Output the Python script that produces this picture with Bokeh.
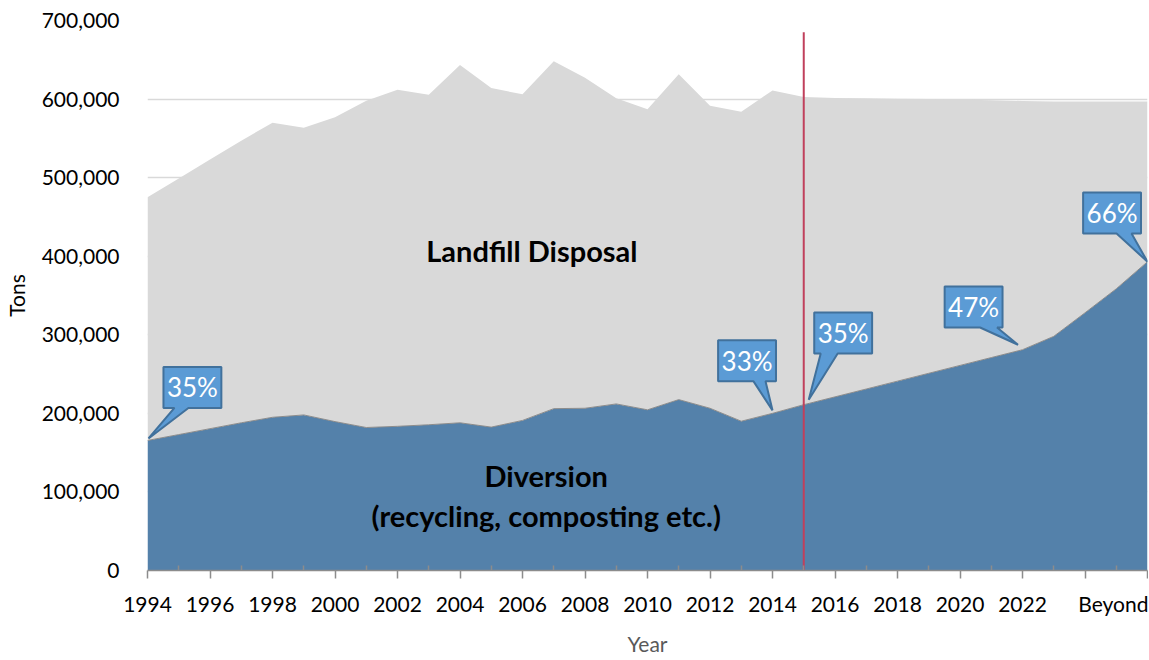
from bokeh.plotting import figure
from bokeh.models import Range1d, FixedTicker, NumeralTickFormatter, Label, ColumnDataSource
from bokeh.embed import file_html
from bokeh.resources import INLINE

# ---------------- data ----------------
years = [str(y) for y in range(1994, 2026)] + ["Beyond"]
diversion = [165500, 173000, 180500, 188000, 195000, 198000, 189500, 182000,
             183500, 185500, 188000, 182500, 191000, 206000, 206500, 212000,
             204500, 217500, 206500, 190000, 200000, 211000, 221000, 231000,
             241000, 251000, 261000, 271000, 281000, 298000, 328000, 358500,
             393000]
landfill = [309500, 326000, 342500, 359000, 375000, 365500, 387500, 416000,
            428500, 420000, 455500, 431500, 415000, 442000, 420500, 389000,
            382500, 414000, 385000, 394000, 411000, 391500, 380500, 370000,
            359500, 349000, 338500, 327500, 316500, 299000, 269000, 238500,
            204000]
y_ticks = [0, 100000, 200000, 300000, 400000, 500000, 600000, 700000]
divider_year = "2015"
# callouts: (year label, text)
callouts = [("1994", "35%"), ("2014", "33%"), ("2015", "35%"),
            ("2022", "47%"), ("Beyond", "66%")]
# ---------------------------------------

FONT = "Lato"
W, H = 1148, 658
BL, BR, BT, BB = 145, 1, 20, 88
FW, FH = W - BL - BR, H - BT - BB
N = len(years)
x = list(range(N))

src = ColumnDataSource(dict(x=x, diversion=diversion, landfill=landfill))

p = figure(width=W, height=H,
           x_range=Range1d(0, N - 1), y_range=Range1d(0, 700000),
           output_backend="svg", toolbar_location=None,
           min_border_left=BL, min_border_right=BR,
           min_border_top=BT, min_border_bottom=BB)
p.outline_line_color = None
p.background_fill_color = "white"
p.border_fill_color = "white"

p.varea_stack(["diversion", "landfill"], x="x", color=["#5481AA", "#D9D9D9"], source=src)
p.line("x", "diversion", source=src, line_color="#8C8C8C", line_width=1)

# divider
di = years.index(divider_year)
p.segment(x0=[di], y0=[0], x1=[di], y1=[685000], line_color="#C0405C", line_width=2)

# axes
def xlabel(i):
    if i <= 28 or i == N - 1:
        return years[i]
    return ""

p.xaxis.ticker = FixedTicker(ticks=list(range(0, N, 2)), minor_ticks=list(range(1, N, 2)))
p.xaxis.major_label_overrides = {i: xlabel(i) for i in range(0, N, 2)}
p.xaxis.axis_line_color = "#8C8C8C"
p.xaxis.axis_line_width = 1.5
p.xaxis.major_tick_line_color = "#8C8C8C"
p.xaxis.major_tick_line_width = 1.5
p.xaxis.minor_tick_line_color = "#8C8C8C"
p.xaxis.minor_tick_line_width = 1.5
p.xaxis.major_tick_out = 8
p.xaxis.major_tick_in = 0
p.xaxis.minor_tick_in = 5
p.xaxis.minor_tick_out = 0
p.xaxis.major_label_standoff = 12
p.xaxis.axis_label = "Year"
p.xaxis.axis_label_text_color = "#595959"
p.xaxis.axis_label_standoff = 12

p.yaxis.ticker = FixedTicker(ticks=y_ticks)
p.yaxis.formatter = NumeralTickFormatter(format="0,0")
p.yaxis.axis_line_color = None
p.yaxis.major_tick_line_color = None
p.yaxis.minor_tick_line_color = None
p.yaxis.major_label_standoff = 22
p.yaxis.axis_label = "Tons"
p.yaxis.axis_label_text_color = "#000000"
p.yaxis.axis_label_standoff = 10

for ax in (p.xaxis, p.yaxis):
    ax.major_label_text_font = FONT
    ax.major_label_text_font_size = "21px"
    ax.major_label_text_color = "#000000"
    ax.axis_label_text_font = FONT
    ax.axis_label_text_font_size = "21px"
    ax.axis_label_text_font_style = "normal"

p.xgrid.visible = False
p.ygrid.ticker = FixedTicker(ticks=y_ticks)
p.ygrid.grid_line_color = "#D9D9D9"
p.ygrid.grid_line_width = 1.5

# area labels
for tx, xx, yy in [("Landfill Disposal", 12.3, 407000), ("Diversion", 12.76, 121000),
                   ("(recycling, composting etc.)", 12.76, 70000)]:
    p.add_layout(Label(x=xx, y=yy, text=tx, text_align="center", text_baseline="middle",
                       text_font=FONT, text_font_size="29px", text_font_style="bold",
                       text_color="#000000"))

# callouts (pixel offsets relative to the anchored data point)
geom = {
    "1994": dict(tip=(1, 2), c=(45, 53), t=(27, 41)),
    "2014": dict(tip=(0, 3), c=(-25.5, 52.5), t=(-19, -7)),
    "2015": dict(tip=(5, 5), c=(39.5, 71.7), t=(17, 34)),
    "2022": dict(tip=(-4.5, 5), c=(-49, 42.7), t=(-42.5, -25.5)),
    "Beyond": dict(tip=(0, 0), c=(-35.5, 48.7), t=(-31, -16)),
}
dx = (N - 1) / FW
dy = 700000 / FH
BW, BH = 58, 41
xs, ys = [], []
for yl, txt in callouts:
    i = years.index(yl)
    ax_, ay_ = i, diversion[i]
    g = geom[yl]
    cx, cy = g["c"]
    L, R, T, B = cx - BW / 2, cx + BW / 2, cy + BH / 2, cy - BH / 2
    pts = [(L, T), (R, T), (R, B), (g["t"][1], B), g["tip"], (g["t"][0], B), (L, B)]
    xs.append([ax_ + px * dx for px, py in pts])
    ys.append([ay_ + py * dy for px, py in pts])
    p.add_layout(Label(x=ax_ + cx * dx, y=ay_ + cy * dy, text=txt, text_align="center",
                       text_baseline="middle", text_font=FONT, text_font_size="26px",
                       text_color="white"))
p.patches(xs, ys, fill_color="#5B9BD5", line_color="#41719C", line_width=2)

open("out.html", "w").write(file_html(p, INLINE))
